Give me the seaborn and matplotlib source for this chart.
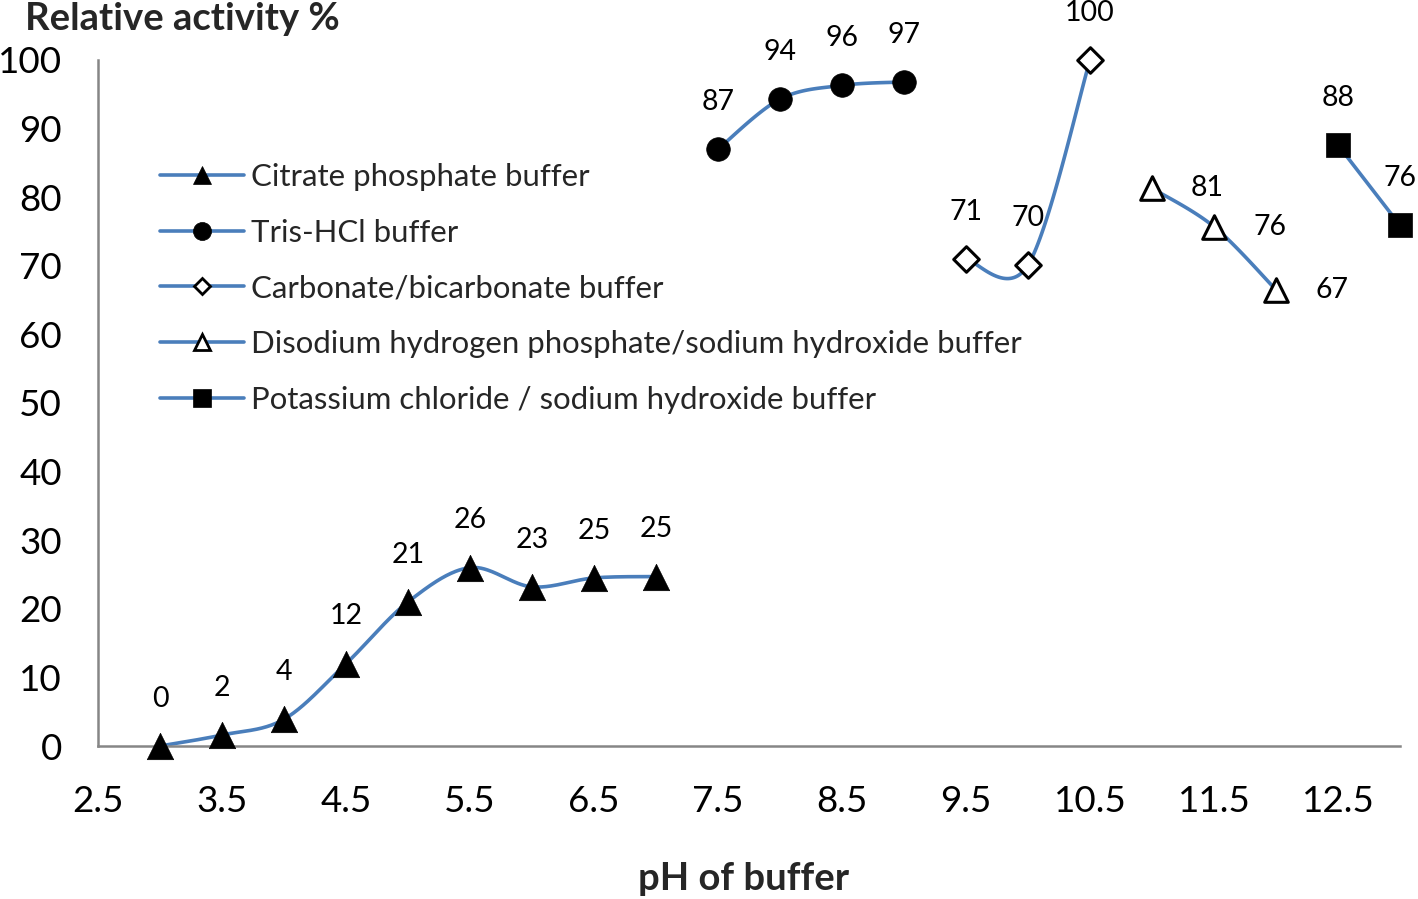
import numpy as np
import matplotlib
matplotlib.use('Agg')
import matplotlib.pyplot as plt
import seaborn as sns
from matplotlib.lines import Line2D

# values
citrate_ph = [3.0, 3.5, 4.0, 4.5, 5.0, 5.5, 6.0, 6.5, 7.0]
citrate_act = [0.0, 1.6, 3.9, 12.0, 21.0, 26.0, 23.2, 24.5, 24.7]
citrate_lab = ['0', '2', '4', '12', '21', '26', '23', '25', '25']

tris_ph = [7.5, 8.0, 8.5, 9.0]
tris_act = [87.0, 94.3, 96.3, 96.8]
tris_lab = ['87', '94', '96', '97']

carb_ph = [9.5, 10.0, 10.5]
carb_act = [71.0, 70.1, 100.0]
carb_lab = ['71', '70', '100']

diso_ph = [11.0, 11.5, 12.0]
diso_act = [81.3, 75.7, 66.5]
diso_lab = ['81', '76', '67']

kcl_ph = [12.5, 13.0]
kcl_act = [87.6, 75.9]
kcl_lab = ['88', '76']

x_ticks = [2.5, 3.5, 4.5, 5.5, 6.5, 7.5, 8.5, 9.5, 10.5, 11.5, 12.5]
y_ticks = [0, 10, 20, 30, 40, 50, 60, 70, 80, 90, 100]

LINE = '#4A7EBB'
AXIS = '#868686'
FONT = 'Lato'


def smooth(xs, ys, n=40):
    # excel style smoothed line: bezier segments with catmull-rom control points
    p = np.column_stack([xs, ys]).astype(float)
    if len(p) < 3:
        return p[:, 0], p[:, 1]
    ext = np.vstack([p[0], p, p[-1]])
    t = np.linspace(0, 1, n)[:, None]
    out = []
    for i in range(1, len(ext) - 2):
        p0, p1, p2, p3 = ext[i - 1], ext[i], ext[i + 1], ext[i + 2]
        c1 = p1 + (p2 - p0) / 6
        c2 = p2 - (p3 - p1) / 6
        seg = ((1 - t) ** 3) * p1 + 3 * ((1 - t) ** 2) * t * c1 + 3 * (1 - t) * t ** 2 * c2 + t ** 3 * p2
        out.append(seg if i == 1 else seg[1:])
    out = np.vstack(out)
    return out[:, 0], out[:, 1]


sns.set_style('white')
plt.rcParams['font.family'] = [FONT, 'DejaVu Sans']

fig = plt.figure(figsize=(14.18, 8.99), dpi=100)
ax = fig.add_axes([98 / 1418, 1 - 746 / 899, (1400 - 98) / 1418, (746 - 60) / 899])

series = [
    (citrate_ph, citrate_act, citrate_lab, '^', 19, 'black', 'above'),
    (tris_ph, tris_act, tris_lab, 'o', 17, 'black', 'above'),
    (carb_ph, carb_act, carb_lab, 'D', 13, 'white', 'above'),
    (diso_ph, diso_act, diso_lab, '^', 17, 'white', 'right'),
    (kcl_ph, kcl_act, kcl_lab, 's', 17, 'black', 'above'),
]

for xs, ys, labs, mk, ms, fc, pos in series:
    sx, sy = smooth(xs, ys)
    sns.lineplot(x=sx, y=sy, sort=False, estimator=None, color=LINE, linewidth=2.6,
                 ax=ax, zorder=2)
    sns.scatterplot(x=xs, y=ys, marker=mk, s=ms ** 2, color=fc, edgecolor='black',
                    linewidth=2.2 if fc == 'white' else 0.5, ax=ax, zorder=3, clip_on=False)
    for x, y, lab in zip(xs, ys, labs):
        off = (0, 34) if pos == 'above' else (40, 0)
        ax.annotate(lab, (x, y), xytext=off, textcoords='offset points', ha='center',
                    va='center', fontsize=20.5, color='black')

ax.set_xlim(2.5, 13)
ax.set_ylim(0, 100)
ax.set_xticks(x_ticks)
ax.set_xticklabels([str(v) for v in x_ticks])
ax.set_yticks(y_ticks)
ax.tick_params(axis='both', direction='out', length=8, width=1.6, color=AXIS,
               labelsize=26.5, labelcolor='black')
ax.tick_params(axis='y', pad=18)
ax.tick_params(axis='x', pad=20)
for side in ['top', 'right']:
    ax.spines[side].set_visible(False)
for side in ['left', 'bottom']:
    ax.spines[side].set_color(AXIS)
    ax.spines[side].set_linewidth(1.8)
ax.set_xlabel('')
ax.set_ylabel('')

handles = []
names = ['Citrate phosphate buffer', 'Tris-HCl buffer', 'Carbonate/bicarbonate buffer',
         'Disodium hydrogen phosphate/sodium hydroxide buffer',
         'Potassium chloride / sodium hydroxide buffer']
leg_mk = [('^', 13, 'black'), ('o', 13, 'black'), ('D', 8, 'white'), ('^', 11, 'white'),
          ('s', 13, 'black')]
for (mk, ms, fc) in leg_mk:
    handles.append(Line2D([], [], color=LINE, linewidth=2.6, marker=mk, markersize=ms,
                          markerfacecolor=fc, markeredgecolor='black',
                          markeredgewidth=2 if fc == 'white' else 0.5))
fig.legend(handles, names, loc='upper left', bbox_to_anchor=(160 / 1418, 1 - 163 / 899),
           frameon=False, fontsize=22.4, handlelength=2.7, handletextpad=0.22,
           labelspacing=0.89, borderpad=0, borderaxespad=0)

fig.text(25 / 1418, 1 - 19 / 899, 'Relative activity %', fontsize=27.5, fontweight='bold',
         ha='left', va='center')
fig.text(744 / 1418, 1 - 879 / 899, 'pH of buffer', fontsize=27.5, fontweight='bold',
         ha='center', va='center')

fig.savefig('out.png', dpi=100)
